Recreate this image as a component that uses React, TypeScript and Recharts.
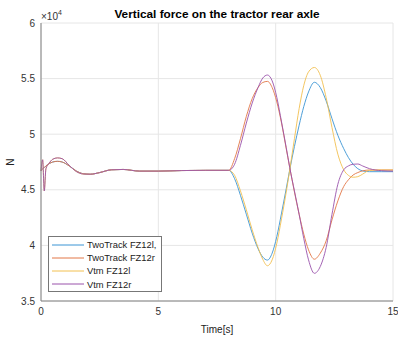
import React from "react";
import { LineChart, Line, XAxis, YAxis, CartesianGrid, Legend } from "recharts";

// time in seconds
const time = [
  0, 0.07, 0.14, 0.21, 0.35, 0.5, 0.7, 0.9, 1.2, 1.5,
  1.8, 2.1, 2.5, 3.0, 3.5, 4.2, 5.0, 6.0, 7.0, 8.0,
  8.25, 8.5, 8.75, 9.0, 9.25, 9.45, 9.65, 9.85, 10.05, 10.25,
  10.45, 10.6, 10.8, 11.0, 11.2, 11.4, 11.65, 11.9, 12.15, 12.4,
  12.65, 12.9, 13.1, 13.3, 13.5, 13.7, 14.0, 14.5, 15.0,
];

// vertical force [N]
const twoTrackL = [
  46700, 46900, 47000, 47150, 47350, 47500, 47560, 47500, 47150, 46700,
  46450, 46400, 46550, 46800, 46830, 46680, 46680, 46730, 46750, 46750,
  46000, 44500, 42800, 41100, 39700, 38950, 38680, 39300, 40800, 42900,
  45100, 46800, 48900, 50800, 52500, 53800, 54670, 54200, 53000, 51400,
  49900, 48700, 47900, 47300, 46900, 46700, 46630, 46630, 46630,
];
const twoTrackR = [
  46700, 46900, 47000, 47150, 47350, 47500, 47560, 47500, 47150, 46700,
  46450, 46400, 46550, 46800, 46830, 46680, 46680, 46730, 46750, 46750,
  47800, 49600, 51600, 53200, 54200, 54650, 54750, 54200, 52900, 51000,
  48700, 47000, 44800, 42800, 41000, 39600, 38760, 39300, 40400, 42300,
  44000, 45300, 45900, 46330, 46550, 46700, 46780, 46780, 46780,
];
const vtmL = [
  46700, 47700, 44900, 46900, 47400, 47750, 47870, 47800, 47200, 46650,
  46420, 46400, 46550, 46800, 46830, 46680, 46680, 46730, 46750, 46750,
  46300, 44900, 43200, 41400, 39800, 38750, 38170, 38700, 40200, 42400,
  44800, 46800, 49600, 52300, 54400, 55600, 56000, 55300, 53300, 50600,
  48200, 46800, 46300, 46130, 46180, 46400, 46750, 46780, 46780,
];
const vtmR = [
  46700, 47700, 44900, 46900, 47400, 47750, 47870, 47800, 47200, 46650,
  46420, 46400, 46550, 46800, 46830, 46680, 46680, 46730, 46750, 46750,
  47300, 49000, 51000, 52800, 54200, 55050, 55320, 54800, 53300, 51100,
  48800, 47000, 44900, 42800, 40600, 38700, 37490, 38100, 39800, 42800,
  45500, 46800, 47150, 47300, 47320, 47150, 46900, 46720, 46680,
];

const xTicks = [0, 5, 10, 15];
const yTicks = [35000, 40000, 45000, 50000, 55000, 60000];

const series = [
  { key: "tl", name: "TwoTrack FZ12l,", color: "#3a94d4", values: twoTrackL },
  { key: "tr", name: "TwoTrack FZ12r", color: "#e27646", values: twoTrackR },
  { key: "vl", name: "Vtm FZ12l", color: "#f2c050", values: vtmL },
  { key: "vr", name: "Vtm FZ12r", color: "#9a52ab", values: vtmR },
];

const data = time.map((t, i) => {
  const row: Record<string, number> = { t };
  series.forEach((s) => {
    row[s.key] = s.values[i];
  });
  return row;
});

const FONT = "'Liberation Sans', Arial, sans-serif";

const renderLegend = () => (
  <div
    style={{
      border: "1px solid #777",
      background: "#fff",
      width: 114,
      height: 56,
      boxSizing: "border-box",
      padding: "1px 0 0 3px",
      fontFamily: FONT,
      fontSize: 9.4,
      color: "#222",
    }}
  >
    {series.map((s) => (
      <div key={s.key} style={{ display: "flex", alignItems: "center", height: 13.2 }}>
        <svg width={32} height={4} style={{ marginRight: 3 }}>
          <line x1={0} y1={2} x2={32} y2={2} stroke={s.color} strokeWidth={1} />
        </svg>
        <span>{s.name}</span>
      </div>
    ))}
  </div>
);

const App = () => {
  return (
    <div style={{ position: "absolute", left: 0, top: 0 }}>
      <LineChart
        width={398}
        height={337}
        data={data}
        margin={{ top: 23, right: 5, bottom: 0, left: 0 }}
        style={{ fontFamily: FONT }}
      >
        <CartesianGrid stroke="#e6e6e6" />
        <XAxis
          dataKey="t"
          type="number"
          domain={[0, 15]}
          ticks={xTicks}
          height={36}
          tickLine={false}
          tickSize={0}
          tickMargin={7}
          stroke="#808080"
          tick={{ fontSize: 10, fill: "#333" }}
          label={{ value: "Time[s]", position: "insideBottom", offset: 4, fontSize: 10, fill: "#222" }}
        />
        <YAxis
          type="number"
          domain={[35000, 60000]}
          ticks={yTicks}
          width={41}
          tickLine={false}
          tickSize={0}
          tickMargin={6}
          stroke="#808080"
          tick={{ fontSize: 10, fill: "#333" }}
          tickFormatter={(v: number) => String(v / 10000)}
          label={(props: any) => {
            const vb = props.viewBox || { y: 23, height: 278 };
            const cy = vb.y + vb.height / 2;
            return (
              <text
                x={10}
                y={cy}
                transform={`rotate(-90, 10, ${cy})`}
                textAnchor="middle"
                dominantBaseline="central"
                fontSize={10}
                fill="#222"
              >
                N
              </text>
            );
          }}
        />
        <Legend
          layout="vertical"
          align="center"
          verticalAlign="middle"
          content={renderLegend}
          wrapperStyle={{ left: 48, top: 236, width: 114, height: 56 }}
        />
        {series.map((s) => (
          <Line
            key={s.key}
            dataKey={s.key}
            name={s.name}
            type="monotone"
            stroke={s.color}
            strokeWidth={0.9}
            dot={false}
            activeDot={false}
            isAnimationActive={false}
          />
        ))}
        <text x={217} y={18} textAnchor="middle" fontSize={11.8} fontWeight="bold" fill="#000">
          Vertical force on the tractor rear axle
        </text>
        <text x={41} y={20} fontSize={10} fill="#333">
          ×10
          <tspan dy={-5} fontSize={7}>4</tspan>
        </text>
      </LineChart>
    </div>
  );
};

export default App;
